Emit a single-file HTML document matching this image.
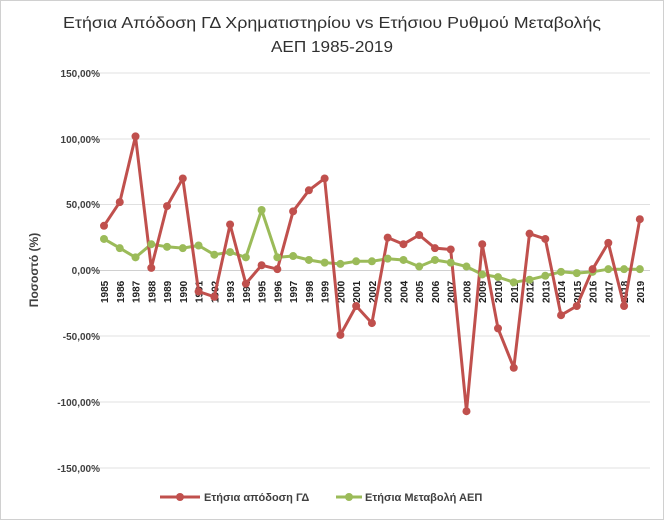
<!DOCTYPE html><html><head><style>body{margin:0;background:#fff}svg{display:block;font-family:"Liberation Sans","DejaVu Sans",sans-serif}</style></head><body>
<svg width="664" height="520" xmlns="http://www.w3.org/2000/svg">
<rect x="0.5" y="0.5" width="663" height="519" fill="#fff" stroke="#d0d0d0"/>
<text x="332" y="28" text-anchor="middle" font-size="16" fill="#303030" textLength="538" lengthAdjust="spacingAndGlyphs">Ετήσια Απόδοση ΓΔ Χρηματιστηρίου vs Ετήσιου Ρυθμού Μεταβολής</text>
<text x="332" y="52" text-anchor="middle" font-size="16" fill="#303030" textLength="122" lengthAdjust="spacingAndGlyphs">ΑΕΠ 1985-2019</text>
<g stroke="#e0e0e0" stroke-width="1">
<line x1="96" x2="650" y1="73" y2="73"/><line x1="96" x2="650" y1="139" y2="139"/><line x1="96" x2="650" y1="204.5" y2="204.5"/><line x1="96" x2="650" y1="336" y2="336"/><line x1="96" x2="650" y1="402" y2="402"/><line x1="96" x2="650" y1="468" y2="468"/>
</g>
<line x1="96" x2="650" y1="270.5" y2="270.5" stroke="#d0d0d0"/>
<g font-size="10" font-weight="bold" fill="#404040" text-anchor="end">
<text x="100" y="77">150,00%</text><text x="100" y="143">100,00%</text><text x="100" y="208">50,00%</text><text x="100" y="274">0,00%</text><text x="100" y="340">-50,00%</text><text x="100" y="406">-100,00%</text><text x="100" y="472">-150,00%</text>
</g>
<text transform="translate(38,270) rotate(-90)" text-anchor="middle" font-size="12" font-weight="bold" fill="#404040">Ποσοστό (%)</text>
<g id="xl" font-size="10" font-weight="bold" fill="#202020"></g>
<polyline id="g" fill="none" stroke="#9bbb59" stroke-width="3" stroke-linejoin="round"/>
<polyline id="r" fill="none" stroke="#c0504d" stroke-width="3" stroke-linejoin="round"/>
<g id="gm" fill="#9bbb59"></g><g id="rm" fill="#c0504d"></g>
<line x1="160" x2="200" y1="497" y2="497" stroke="#c0504d" stroke-width="3"/><circle cx="180" cy="497" r="4" fill="#c0504d"/>
<text x="204" y="501" font-size="11" font-weight="bold" fill="#404040">Ετήσια απόδοση ΓΔ</text>
<line x1="336" x2="362" y1="497" y2="497" stroke="#9bbb59" stroke-width="3"/><circle cx="349" cy="497" r="4" fill="#9bbb59"/>
<text x="365" y="501" font-size="11" font-weight="bold" fill="#404040">Ετήσια Μεταβολή ΑΕΠ</text>
<script>
var R=[34,52,102,2,49,70,-16,-20,35,-10,4,1,45,61,70,-49,-27,-40,25,20,27,17,16,-107,20,-44,-74,28,24,-34,-27,1,21,-27,39];
var G=[24,17,10,20,18,17,19,12,14,10,46,10,11,8,6,5,7,7,9,8,3,8,6,3,-3,-5,-9,-7,-4,-1,-2,-1,1,1,1];
function X(i){return 104+i*15.76}function Y(v){return 270.5-v*1.315}
var ns="http://www.w3.org/2000/svg";
function draw(d,pl,mk){var p=[];var m=document.getElementById(mk);d.forEach(function(v,i){p.push(X(i).toFixed(1)+","+Y(v).toFixed(1));var c=document.createElementNS(ns,"circle");c.setAttribute("cx",X(i));c.setAttribute("cy",Y(v));c.setAttribute("r",4);m.appendChild(c);});document.getElementById(pl).setAttribute("points",p.join(" "));}
var xl=document.getElementById("xl");
for(var i=0;i<35;i++){var t=document.createElementNS(ns,"text");t.setAttribute("transform","translate("+(X(i)+4)+",303) rotate(-90)");t.textContent=1985+i;xl.appendChild(t);}
draw(G,"g","gm");draw(R,"r","rm");
</script>
</svg></body></html>
